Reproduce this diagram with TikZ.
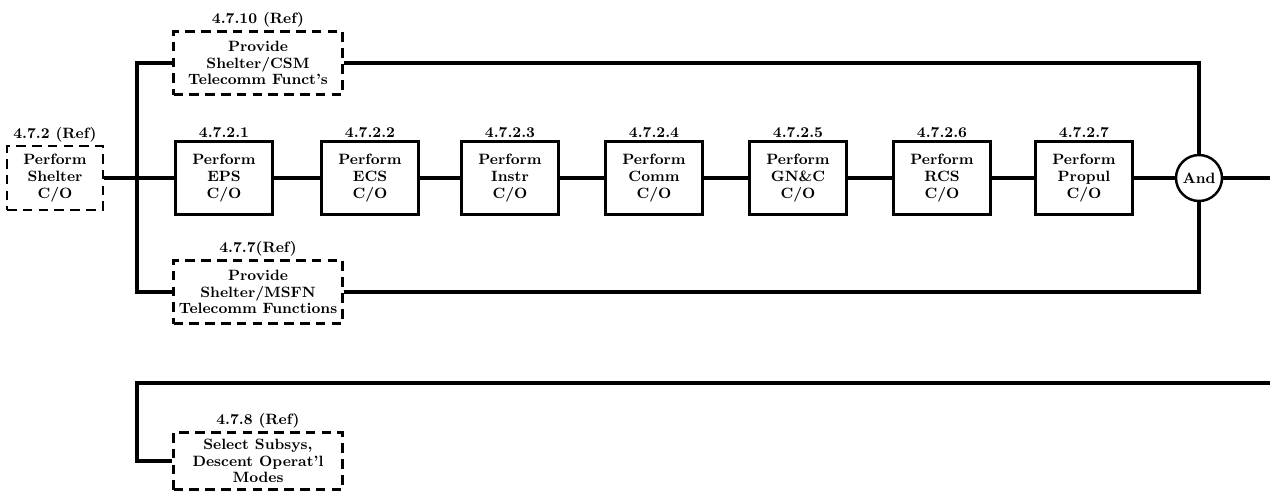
\documentclass[tikz,border=0pt]{standalone}
\usetikzlibrary{positioning}
\tikzset{
  blk/.style={draw, line width=1.4pt, minimum width=1.94cm, minimum height=1.46cm,
    align=center, inner sep=1pt, font=\bfseries\fontsize{8.5}{9.5}\selectfont},
  refblk/.style={blk, dash pattern=on 5.5pt off 3.5pt, minimum width=3.38cm, minimum height=1.26cm},
  tag/.style={font=\bfseries\fontsize{8.5}{9}\selectfont, inner sep=1.5pt},
  flow/.style={line width=2.2pt},
}
\begin{document}
\begin{tikzpicture}[x=0.02cm,y=-0.02cm]
    \useasboundingbox (0,0) rectangle (1270,491);
    % reference blocks
    \node[refblk, minimum width=1.92cm, minimum height=1.28cm, label={[tag]above:4.7.2 (Ref)}] (shelter) at (55,178) {Perform\\Shelter\\C/O};
    \node[refblk, label={[tag]above:4.7.10 (Ref)}] (csm) at (258,63) {Provide\\Shelter/CSM\\Telecomm Funct's};
    \node[refblk, label={[tag]above:4.7.7(Ref)}] (msfn) at (258,292) {Provide\\Shelter/MSFN\\Telecomm Functions};
    \node[refblk, minimum height=1.14cm, label={[tag]above:4.7.8 (Ref)}] (sel) at (258,461) {Select Subsys,\\Descent Operat'l\\Modes};
    % checkout chain
    \foreach \nm/\x/\num/\txt in {eps/224/1/EPS, ecs/370/2/ECS, instr/510/3/Instr, comm/654/4/Comm,
        gnc/798/5/{GN\&C}, rcs/942/6/RCS, propul/1084/7/Propul}
        \node[blk, label={[tag]above:4.7.2.\num}] (\nm) at (\x,178) {Perform\\\txt\\C/O};
    \node[draw, circle, line width=1.4pt, minimum size=0.92cm, inner sep=0pt,
        font=\bfseries\fontsize{8.5}{9}\selectfont] (and) at (1199,178) {And};
    \coordinate (split) at (137,178);
    \coordinate (outend) at (1270,178);
    \coordinate (lowend) at (1270,383);
    \coordinate (lowbus) at (137,383);
    % connectors
    \draw[flow] (shelter) -- (eps);
    \foreach \a/\b in {eps/ecs, ecs/instr, instr/comm, comm/gnc, gnc/rcs, rcs/propul, propul/and}
        \draw[flow] (\a) -- (\b);
    \draw[flow] (csm.west) -| (split) |- (msfn.west);
    \draw[flow] (csm.east) -| (and.north);
    \draw[flow] (msfn.east) -| (and.south);
    \draw[flow] (and) -- (outend);
    \draw[flow] (lowend) -- (lowbus) |- (sel.west);
\end{tikzpicture}
\end{document}
